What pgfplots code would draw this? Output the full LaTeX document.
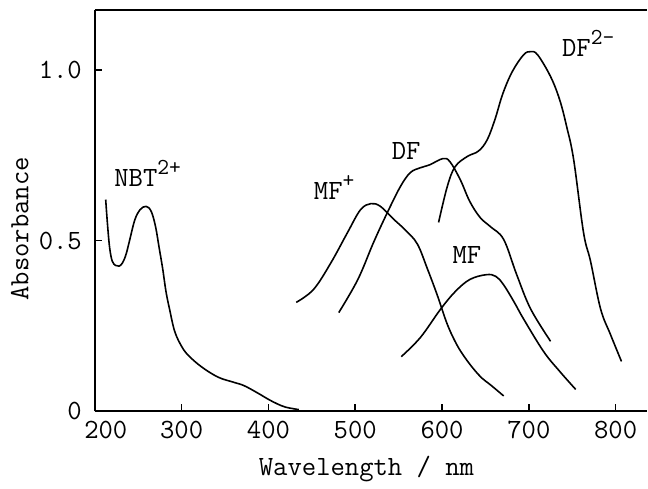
\documentclass[border=0pt]{standalone}
\usepackage{fontspec}
\usepackage{pgfplots}
\pgfplotsset{compat=1.18}
\newcommand{\tf}{\fontsize{14}{16}\selectfont\ttfamily}
\newcommand{\sups}[1]{\raisebox{1.0ex}{\fontsize{11.5}{13}\selectfont\ttfamily #1}}
\tikzset{crv/.style={line width=0.8bp, black, smooth, tension=0.6, mark=none}}
\begin{document}
\begin{tikzpicture}
\begin{axis}[
  name=A,
  scale only axis, width=276.5bp, height=201bp,
  xmin=200, xmax=836, ymin=0, ymax=1.175,
  axis x line=box, axis y line=left,
  axis line style={-, line width=1.1bp, black},
  xtick={300,400,500,600,700,800},
  xticklabels={300,400,500,600,700,800},
  extra x ticks={200}, extra x tick labels={200},
  extra x tick style={major tick length=0pt, xticklabel style={xshift=5.5bp}},
  ytick={0,0.5,1}, yticklabels={0,0.5,1.0},
  xtick pos=left, ytick pos=left,
  tick align=inside, major tick length=3.5bp,
  tick style={line width=0.8bp, black},
  ticklabel style={font=\tf},
  xticklabel style={yshift=-1.5bp},
  yticklabel style={xshift=-3bp},
  xlabel={Wavelength / nm}, ylabel={Absorbance},
  label style={font=\tf},
  xlabel style={at={(axis description cs:0.492,-0.144)}, anchor=center},
  ylabel style={at={(axis description cs:-0.136,0.455)}, anchor=center},
  cycle list={{black}},
  clip=false,
]
% NBT2+
\addplot[crv] coordinates {(212.5,0.62)(214.5,0.55)(217,0.48)(220,0.44)(224,0.427)(228,0.425)(232,0.435)(236,0.46)(240,0.50)(246,0.56)(252,0.59)(259,0.60)(265,0.585)(270,0.54)(274,0.48)(278,0.42)(282,0.35)(286,0.30)(292,0.234)(300,0.19)(308,0.163)(323,0.13)(342,0.10)(360,0.085)(372,0.075)(388,0.053)(400,0.035)(410,0.022)(420,0.012)(435,0.005)};
% MF+
\addplot[crv] coordinates {(432,0.319)(452,0.357)(472,0.435)(491,0.523)(506,0.59)(518,0.608)(529,0.60)(544,0.563)(558,0.53)(571.5,0.49)(583,0.418)(594.5,0.34)(606,0.255)(617,0.195)(627,0.155)(637,0.122)(646,0.097)(656,0.077)(671,0.045)};
% DF
\addplot[crv] coordinates {(481,0.289)(503,0.386)(521,0.494)(537,0.582)(552,0.658)(563.5,0.699)(575,0.713)(586,0.722)(601,0.74)(609,0.731)(621,0.678)(632,0.614)(644,0.567)(656,0.54)(671,0.503)(686,0.40)(702,0.30)(725,0.205)};
% MF
\addplot[crv] coordinates {(553,0.16)(575,0.216)(598,0.298)(615,0.35)(632,0.386)(651,0.40)(662,0.395)(671,0.37)(683,0.32)(694,0.27)(717,0.175)(735.5,0.117)(754,0.064)};
% DF2-
\addplot[crv] coordinates {(596,0.553)(606,0.658)(615,0.716)(629,0.746)(642,0.762)(652,0.795)(661,0.855)(670,0.93)(681,0.995)(694,1.044)(702,1.053)(710,1.044)(725,0.98)(735.5,0.912)(743.6,0.833)(751.6,0.737)(763,0.523)(771,0.44)(782.6,0.30)(794,0.225)(806.7,0.146)};
\node[anchor=base west, inner sep=0pt, font=\tf] at (axis cs:222,0.658) {NBT\sups{2+}};
\node[anchor=base west, inner sep=0pt, font=\tf] at (axis cs:452,0.62) {MF\sups{+}};
\node[anchor=base west, inner sep=0pt, font=\tf] at (axis cs:541.7,0.737) {DF};
\node[anchor=base west, inner sep=0pt, font=\tf] at (axis cs:611.7,0.433) {MF};
\node[anchor=base west, inner sep=0pt, font=\tf] at (axis cs:737.8,1.038) {DF\sups{2-}};
\end{axis}
\path ([yshift=5bp]A.north east);
\path ([xshift=-47.5bp,yshift=-36bp]A.south west);
\end{tikzpicture}
\end{document}
